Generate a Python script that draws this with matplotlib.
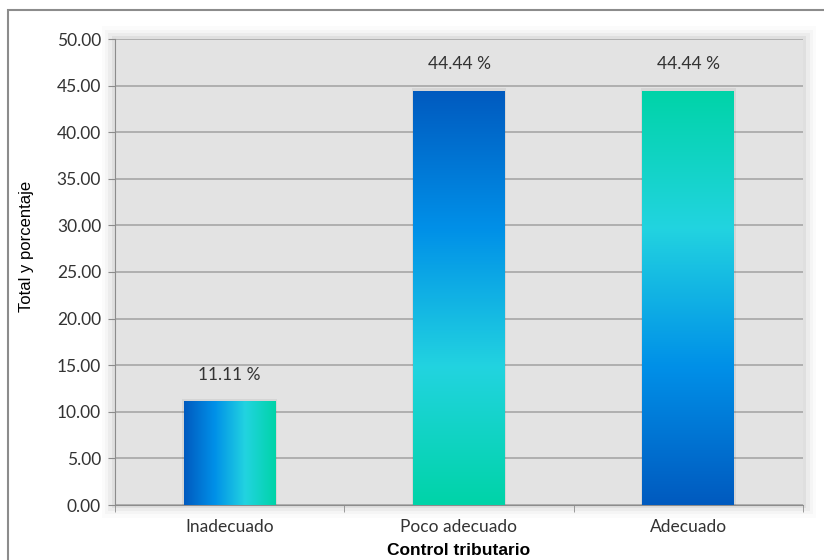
import numpy as np
import matplotlib
matplotlib.use('Agg')
import matplotlib.pyplot as plt
from matplotlib.colors import LinearSegmentedColormap
from matplotlib.patches import Rectangle

categories = ['Inadecuado', 'Poco adecuado', 'Adecuado']
values = [11.11, 44.44, 44.44]
labels = ['11.11 %', '44.44 %', '44.44 %']
yticks = [0, 5, 10, 15, 20, 25, 30, 35, 40, 45, 50]

# colours: dark blue -> blue -> cyan -> teal
grad = LinearSegmentedColormap.from_list(
    'grad', ['#005ABF', '#0090E8', '#22D3E0', '#00D4A8'])

plt.rcParams['font.family'] = ['Lato', 'DejaVu Sans']

fig = plt.figure(figsize=(8.24, 5.6), dpi=100)
# outer chart border
fig.patches.append(Rectangle((8 / 824, -0.05), 1.05, 0.05 + 550 / 560,
                             transform=fig.transFigure, fill=False,
                             edgecolor='#8c8c8c', linewidth=1.5, zorder=0))

# soft shadow behind plot area
for i, a in enumerate([0.05, 0.035, 0.025, 0.015]):
    d = (i + 1) * 0.004
    fig.patches.append(Rectangle((115 / 824 - d, 55 / 560 - d * 1.4),
                                 688 / 824 + 2 * d, 466 / 560 + 2 * d * 1.4,
                                 transform=fig.transFigure, facecolor='black',
                                 edgecolor='none', alpha=a, zorder=0))

ax = fig.add_axes([115 / 824, 55 / 560, 688 / 824, 466 / 560])
ax.set_zorder(2)

ax.set_facecolor('#e3e3e3')
x = np.arange(len(categories))
bars = ax.bar(x, values, width=0.4, color='none', zorder=3)

vert = np.linspace(0, 1, 256).reshape(-1, 1)
horiz = np.linspace(0, 1, 256).reshape(1, -1)
fills = [horiz, vert[::-1], vert]
for b, img in zip(bars, fills):
    x0, y0 = b.get_x(), b.get_y()
    w, h = b.get_width(), b.get_height()
    # faint shadow for each bar
    ax.add_patch(Rectangle((x0 - 0.006, y0), w + 0.012, h + 0.3,
                           facecolor='black', alpha=0.06, zorder=2,
                           edgecolor='none'))
    im = ax.imshow(img, cmap=grad, aspect='auto', origin='lower',
                   extent=(x0, x0 + w, y0, y0 + h), zorder=3)
    im.set_clip_path(b)

for xi, v, t in zip(x, values, labels):
    ax.text(xi, v + 2.0, t, ha='center', va='bottom', fontsize=12.5,
            color='#333333')

ax.set_xlim(-0.5, 2.5)
ax.set_ylim(0, 50)
ax.set_yticks(yticks)
ax.set_yticklabels(['%.2f' % t for t in yticks], fontsize=12.5,
                   color='#333333')
ax.set_xticks(x)
ax.set_xticklabels(categories, fontsize=12.5, color='#333333')
ax.set_xticks([-0.5, 0.5, 1.5, 2.5], minor=True)
ax.tick_params(axis='x', which='major', length=0, pad=10)
ax.tick_params(axis='x', which='minor', length=5, color='#8c8c8c')
ax.tick_params(axis='y', length=5, color='#8c8c8c', pad=5)

ax.yaxis.grid(True, color='#a6a6a6', linewidth=1.2, zorder=1)
ax.set_axisbelow(True)
for s in ['top', 'right']:
    ax.spines[s].set_visible(False)
for s in ['left', 'bottom']:
    ax.spines[s].set_color('#8c8c8c')

ax.set_xlabel('Control tributario', fontsize=12.5, fontweight='bold',
              family=['Liberation Sans', 'DejaVu Sans'], labelpad=6)
ax.set_ylabel('Total y porcentaje', fontsize=12,
              family=['Liberation Sans', 'DejaVu Sans'])
ax.yaxis.set_label_coords(-0.118, 0.554)

fig.savefig('out.png', dpi=100)
